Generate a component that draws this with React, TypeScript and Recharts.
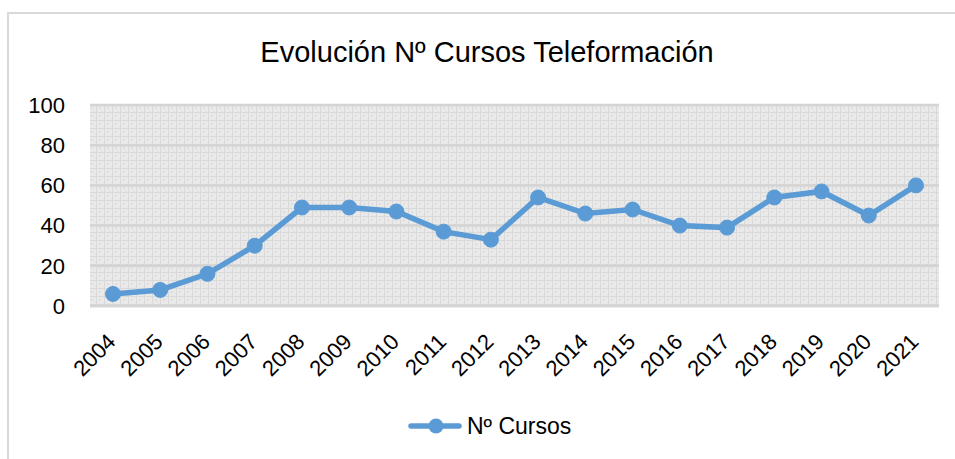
import React from 'react';
import { LineChart, Line, XAxis, YAxis, CartesianGrid } from 'recharts';

// años y número de cursos
const years = ['2004', '2005', '2006', '2007', '2008', '2009', '2010', '2011', '2012', '2013', '2014', '2015', '2016', '2017', '2018', '2019', '2020', '2021'];
const cursos = [6, 8, 16, 30, 49, 49, 47, 37, 33, 54, 46, 48, 40, 39, 54, 57, 45, 60];
const yTicks = [0, 20, 40, 60, 80, 100];

const FONT = '"Liberation Sans", Arial, sans-serif';
const BLUE = '#5b9bd5';

const data = years.map((year, i) => ({ year, cursos: cursos[i] }));

const YearTick = (props: any) => {
   const { x, y, payload } = props;
   const ax = x + 4;
   const ay = y + 29;
   return (
      <text
         x={ax}
         y={ay}
         transform={`rotate(-45, ${ax}, ${ay})`}
         textAnchor="end"
         fontSize={22}
         fontFamily={FONT}
         fill="#000"
      >
         {payload.value}
      </text>
   );
};

export default function App() {
   return (
      <div style={{ position: 'absolute', left: 0, top: 0, width: 955, height: 459, background: '#fff', overflow: 'hidden' }}>
         <div style={{ position: 'absolute', left: 7, top: 12, width: 960, height: 460, borderLeft: '2px solid #d9d9d9', borderTop: '2px solid #d9d9d9' }} />
         <div style={{ position: 'absolute', left: 0, top: 0 }}>
            <LineChart width={955} height={459} data={data} margin={{ top: 105, right: 16, bottom: 0, left: 10 }}>
               <defs>
                  <pattern id="plotPattern" width={8} height={8} patternUnits="userSpaceOnUse">
                     <rect width={8} height={8} fill="#e9e9e9" />
                     <path d="M0 0.5 H8 M0.5 0 V8" stroke="#d9d9d9" strokeWidth={1} />
                     <rect x={3} y={3} width={2} height={2} fill="#dedede" />
                  </pattern>
               </defs>
               <CartesianGrid vertical={false} fill="url(#plotPattern)" stroke="#d4d4d4" strokeWidth={2.5} />
               <XAxis
                  dataKey="year"
                  axisLine={{ stroke: '#d4d4d4', strokeWidth: 2.5 }}
                  tickLine={false}
                  tick={<YearTick />}
                  height={153}
                  interval={0}
                  padding={{ left: 23, right: 23 }}
               />
               <YAxis
                  domain={[0, 100]}
                  ticks={yTicks}
                  axisLine={false}
                  tickLine={false}
                  tickSize={0}
                  tickMargin={25}
                  width={80}
                  tick={{ fontSize: 22, fontFamily: FONT, fill: '#000' }}
               />
               <Line
                  type="linear"
                  dataKey="cursos"
                  name="Nº Cursos"
                  stroke={BLUE}
                  strokeWidth={5.5}
                  dot={{ r: 7.5, fill: BLUE, stroke: BLUE, strokeWidth: 1 }}
                  activeDot={false}
                  isAnimationActive={false}
               />
            </LineChart>
         </div>
         <svg width={955} height={459} style={{ position: 'absolute', left: 0, top: 0, pointerEvents: 'none' }}>
            <text x={487} y={62} textAnchor="middle" fontSize={29} fontFamily={FONT} fill="#000">
               Evolución Nº Cursos Teleformación
            </text>
            <line x1={411} y1={426} x2={459} y2={426} stroke={BLUE} strokeWidth={5.5} strokeLinecap="round" />
            <circle cx={436} cy={426} r={7.5} fill={BLUE} />
            <text x={467} y={434} fontSize={23} fontFamily={FONT} fill="#000">Nº Cursos</text>
         </svg>
      </div>
   );
}
